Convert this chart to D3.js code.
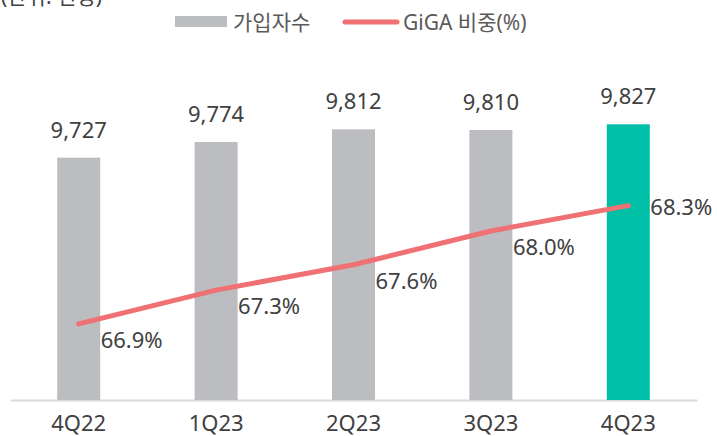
<!DOCTYPE html>
<html><head><meta charset="utf-8">
<script src="https://cdn.jsdelivr.net/npm/d3@7"></script>
<style>
html,body{margin:0;padding:0;background:#fff;}
svg{display:block;}
text{font-family:"Noto Sans","Noto Sans CJK KR",sans-serif;}
</style></head>
<body><svg id="c" width="717" height="436"></svg>
<script>
const categories = ["4Q22","1Q23","2Q23","3Q23","4Q23"];
const subscribers = [9727, 9774, 9812, 9810, 9827];
const gigaShare = [66.9, 67.3, 67.6, 68.0, 68.3];
const subscriberLabels = ["9,727","9,774","9,812","9,810","9,827"];
const shareLabels = ["66.9%","67.3%","67.6%","68.0%","68.3%"];
const legendNames = ["가입자수","GiGA 비중(%)"];
const unitNote = "(단위: 천명)";

(function(){
const svg = d3.select("#c");
const base = 400, plotTop = 100;

const x = d3.scaleBand().domain(categories).range([10, 697]).paddingInner(0).paddingOuter(0);
const barW = 43;
const yBar = d3.scaleLinear().domain([9000, 9900]).range([base, plotTop]);
const yLine = d3.scaleLinear().domain([66, 69.55]).range([base, plotTop]);
const cx = d => x(d) + x.bandwidth()/2;

const grey = "#bcbdc1", teal = "#00bfa7", red = "#f07174", txt = "#404040";

// unit note (partially cropped)
svg.append("text").attr("x", 1).attr("y", 4).attr("font-size", 21)
  .attr("font-family", "'Noto Sans CJK KR'").attr("fill", txt).text(unitNote);

// axis line
const xAxis = d3.axisBottom(x).tickSize(0).tickPadding(0);
const gx = svg.append("g").attr("transform", `translate(0,${base})`).call(xAxis);
gx.select(".domain").attr("stroke", "#d9d9d9").attr("stroke-width", 2);
gx.selectAll("text").attr("font-size", 22).attr("fill", txt)
  .attr("font-family", "'Noto Sans'").attr("dy", null).attr("y", 31);

// bars
svg.append("g").selectAll("rect").data(categories).join("rect")
  .attr("x", d => cx(d) - barW/2)
  .attr("width", barW)
  .attr("y", (d,i) => yBar(subscribers[i]))
  .attr("height", (d,i) => base - yBar(subscribers[i]))
  .attr("fill", (d,i) => i === categories.length-1 ? teal : grey);

// bar labels
svg.append("g").selectAll("text").data(categories).join("text")
  .attr("x", d => cx(d))
  .attr("y", (d,i) => yBar(subscribers[i]) - 20)
  .attr("text-anchor", "middle").attr("font-size", 22).attr("fill", txt)
  .text((d,i) => subscriberLabels[i]);

// line
const line = d3.line().x(d => cx(d)).y((d,i) => yLine(gigaShare[i]));
svg.append("path").datum(categories).attr("d", line)
  .attr("fill", "none").attr("stroke", red).attr("stroke-width", 5)
  .attr("stroke-linecap", "round").attr("stroke-linejoin", "round");

// line labels
svg.append("g").selectAll("text").data(categories).join("text")
  .attr("x", d => cx(d) + 22)
  .attr("y", (d,i) => yLine(gigaShare[i]) + (i === categories.length-1 ? 9 : 24))
  .attr("font-size", 22).attr("fill", txt)
  .text((d,i) => shareLabels[i]);

// legend
const lg = svg.append("g");
lg.append("rect").attr("x", 175).attr("y", 16).attr("width", 52).attr("height", 11).attr("fill", grey);
lg.append("text").attr("x", 233).attr("y", 30).attr("font-size", 21)
  .attr("font-family", "'Noto Sans CJK KR'").attr("fill", "#595959").text(legendNames[0]);
lg.append("line").attr("x1", 345).attr("x2", 397).attr("y1", 22).attr("y2", 22)
  .attr("stroke", red).attr("stroke-width", 5).attr("stroke-linecap", "round");
lg.append("text").attr("x", 403).attr("y", 30).attr("font-size", 21)
  .attr("font-family", "'Noto Sans CJK KR'").attr("fill", "#595959").text(legendNames[1]);
})();
</script></body></html>
